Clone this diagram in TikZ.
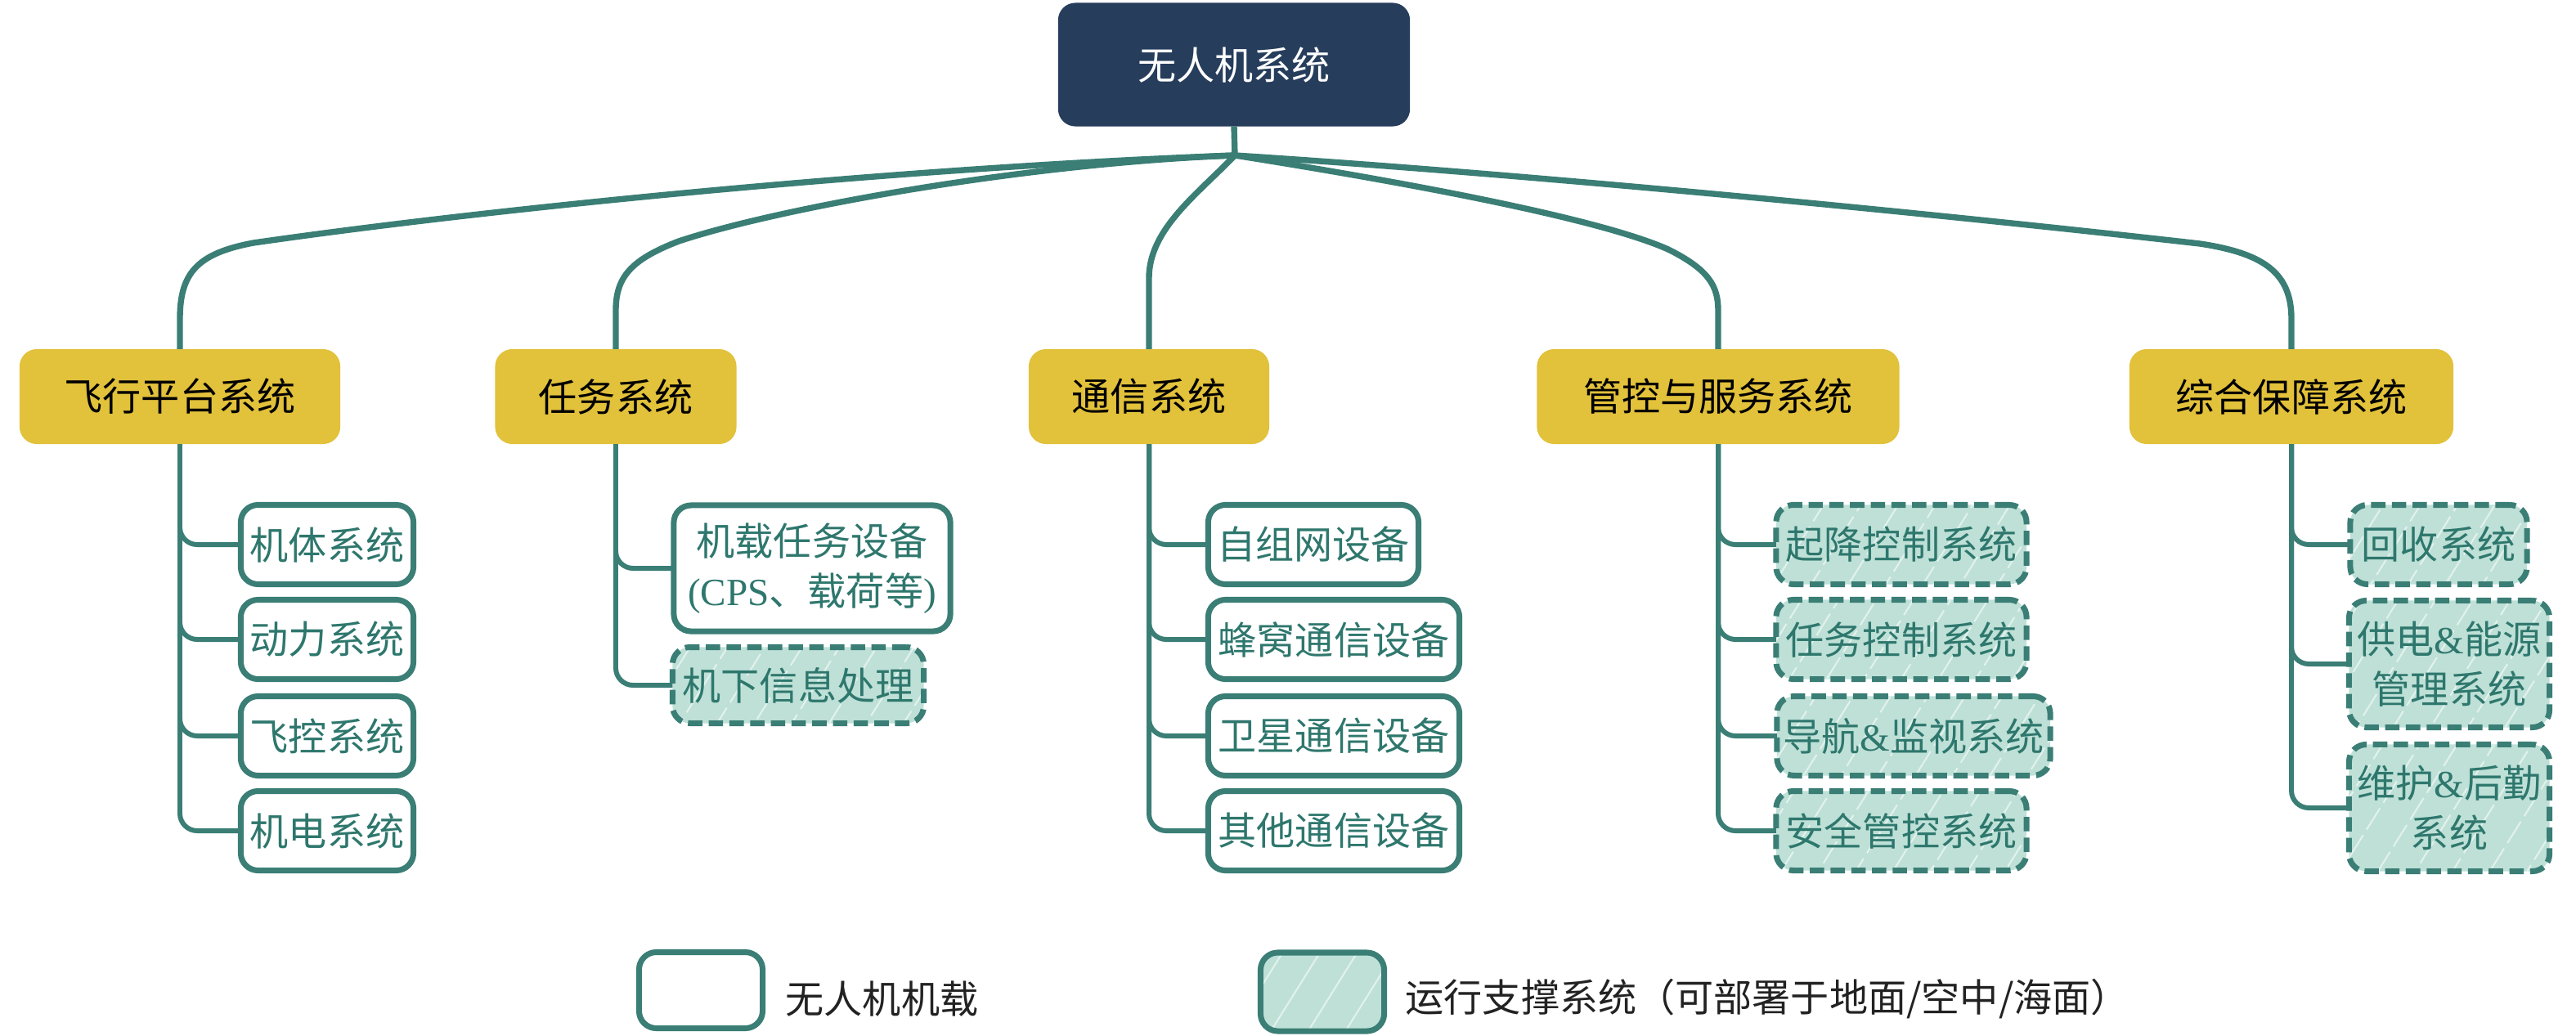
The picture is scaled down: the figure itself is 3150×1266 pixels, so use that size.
\documentclass[tikz,border=0pt]{standalone}
\usepackage{fontspec}
\setmainfont{Noto Sans CJK SC}
\newfontfamily\lat{Liberation Serif}
\usetikzlibrary{patterns.meta}
\definecolor{ln}{HTML}{3A7E75}
\definecolor{navy}{HTML}{263D5C}
\definecolor{yel}{HTML}{E2C13B}
\definecolor{mint}{HTML}{BEE0D7}
\definecolor{txt}{HTML}{2E776D}
\definecolor{dk}{HTML}{222222}
\newcommand{\fs}{\fontsize{13.4pt}{17.5pt}\selectfont}
\tikzset{
  base/.style={rectangle, rounded corners=6pt, inner sep=0pt, outer sep=0pt, align=center, font=\fs},
  rootbox/.style={base, fill=navy, text=white},
  lonebox/.style={base, fill=yel, text=black},
  obox/.style={base, draw=ln, line width=2pt, fill=white, text=txt},
  hatch/.style={preaction={fill=mint}, pattern={Lines[angle=58,distance=11pt,line width=0.6pt]}, pattern color=white!55!mint},
  gbox/.style={base, draw=ln, line width=2pt, dash pattern=on 5pt off 2.2pt, text=txt, hatch},
  sz/.style n args={2}{minimum width=#1, minimum height=#2},
  trunk/.style={draw=ln, line width=2.1pt},
  br/.style={draw=ln, line width=1.7pt, rounded corners=6pt},
  legtext/.style={anchor=west, inner sep=0pt, font=\fs, text=dk},
}
\begin{document}
\begin{tikzpicture}[x=0.01cm,y=-0.01cm]
\useasboundingbox (0,0) rectangle (3150,1266);

% root
\node[rootbox, sz={4.30cm}{1.51cm}] (root) at (1509,79) {无人机系统};
\coordinate (J) at (1510,190);

% level 1
\node[lonebox, sz={3.92cm}{1.16cm}] (fly)  at (220,485)  {飞行平台系统};
\node[lonebox, sz={2.95cm}{1.16cm}] (task) at (753,485)  {任务系统};
\node[lonebox, sz={2.94cm}{1.16cm}] (comm) at (1405,485) {通信系统};
\node[lonebox, sz={4.43cm}{1.16cm}] (mgmt) at (2101,485) {管控与服务系统};
\node[lonebox, sz={3.96cm}{1.16cm}] (supp) at (2802,485) {综合保障系统};

% top curves
\draw[trunk] (root.south) -- (J);
\draw[trunk] (J) .. controls (1100,205) and (600,255) .. (310,297)
             .. controls (240,310) and (220,335) .. (220,390) -- (fly.north);
\draw[trunk] (J) .. controls (1250,200) and (950,255) .. (830,295)
             .. controls (770,318) and (753,340) .. (753,380) -- (task.north);
\draw[trunk] (J) .. controls (1465,237) and (1405,280) .. (1405,340) -- (comm.north);
\draw[trunk] (J) .. controls (1700,220) and (1950,265) .. (2040,305)
             .. controls (2090,330) and (2101,350) .. (2101,380) -- (mgmt.north);
\draw[trunk] (J) .. controls (1900,215) and (2400,265) .. (2690,298)
             .. controls (2770,310) and (2802,335) .. (2802,390) -- (supp.north);

% column 1
\node[obox, sz={2.11cm}{0.97cm}] (a1) at (400,666)  {机体系统};
\node[obox, sz={2.11cm}{0.97cm}] (a2) at (400,782)  {动力系统};
\node[obox, sz={2.11cm}{0.97cm}] (a3) at (400,900)  {飞控系统};
\node[obox, sz={2.11cm}{0.97cm}] (a4) at (400,1016) {机电系统};
% column 2
\node[obox, sz={3.38cm}{1.54cm}] (b1) at (993,695) {机载任务设备\\{\lat (CPS}、载荷等{\lat )}};
\node[gbox, sz={3.07cm}{0.93cm}] (b2) at (976,838) {机下信息处理};
% column 3
\node[obox, sz={2.57cm}{0.97cm}] (c1) at (1606,666)  {自组网设备};
\node[obox, sz={3.07cm}{0.97cm}] (c2) at (1631,782)  {蜂窝通信设备};
\node[obox, sz={3.07cm}{0.97cm}] (c3) at (1631,900)  {卫星通信设备};
\node[obox, sz={3.07cm}{0.97cm}] (c4) at (1631,1016) {其他通信设备};
% column 4
\node[gbox, sz={3.06cm}{0.97cm}] (d1) at (2325,666)  {起降控制系统};
\node[gbox, sz={3.06cm}{0.97cm}] (d2) at (2325,782)  {任务控制系统};
\node[gbox, sz={3.34cm}{0.97cm}] (d3) at (2340,900)  {导航{\lat\&}监视系统};
\node[gbox, sz={3.06cm}{0.97cm}] (d4) at (2325,1016) {安全管控系统};
% column 5
\node[gbox, sz={2.16cm}{0.97cm}] (e1) at (2982,666) {回收系统};
\node[gbox, sz={2.45cm}{1.55cm}] (e2) at (2995,812) {供电{\lat\&}能源\\管理系统};
\node[gbox, sz={2.45cm}{1.55cm}] (e3) at (2995,988) {维护{\lat\&}后勤\\系统};

% branches
\foreach \c in {a1,a2,a3,a4} \draw[br] (fly.south) |- (\c.west);
\foreach \c in {b1,b2} \draw[br] (task.south) |- (\c.west);
\foreach \c in {c1,c2,c3,c4} \draw[br] (comm.south) |- (\c.west);
\foreach \c in {d1,d2,d3,d4} \draw[br] (mgmt.south) |- (\c.west);
\foreach \c in {e1,e2,e3} \draw[br] (supp.south) |- (\c.west);

% legend
\node[obox, sz={1.51cm}{0.93cm}] (lg1) at (857,1211) {};
\node[legtext] (lt1) at (960,1222) {无人机机载};
\node[base, draw=ln, line width=2pt, hatch, sz={1.51cm}{0.96cm}] (lg2) at (1617,1213) {};
\node[legtext] (lt2) at (1718,1222) {运行支撑系统（可部署于地面/空中/海面）};
\end{tikzpicture}
\end{document}
